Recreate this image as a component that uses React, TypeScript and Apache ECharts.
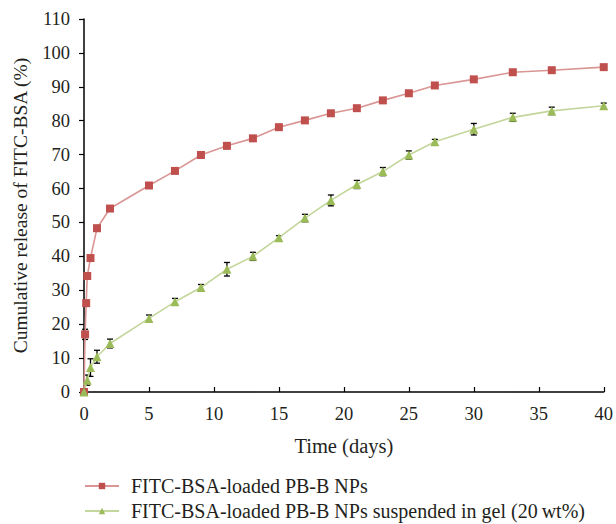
import React, { useEffect, useRef } from "react";
import * as echarts from "echarts";

// Release profile of free nanoparticles
const npDays = [0, 0.083, 0.167, 0.25, 0.5, 1, 2, 5, 7, 9, 11, 13, 15, 17, 19, 21, 23, 25, 27, 30, 33, 36, 40];
const npRelease = [0, 17.0, 26.2, 34.2, 39.5, 48.3, 54.1, 60.9, 65.2, 69.9, 72.6, 74.8, 78.1, 80.1, 82.2, 83.7, 86.0, 88.1, 90.4, 92.2, 94.3, 94.9, 95.8];
const npError = [0, 1.5, 0.8, 0.8, 0.6, 0.8, 0.5, 0.6, 0.7, 0.6, 0.8, 0.4, 0.3, 0.3, 0.3, 0.3, 0.3, 0.3, 0.3, 0.3, 0.3, 0.3, 0.3];

// Release profile of nanoparticles suspended in gel
const gelDays = [0, 0.25, 0.5, 1, 2, 5, 7, 9, 11, 13, 15, 17, 19, 21, 23, 25, 27, 30, 33, 36, 40];
const gelRelease = [0, 3.5, 7.2, 10.4, 14.3, 21.7, 26.6, 30.8, 36.2, 40.0, 45.5, 51.3, 56.5, 61.2, 65.0, 69.9, 73.8, 77.5, 81.0, 82.9, 84.4];
const gelError = [0, 1.5, 2.6, 1.9, 1.3, 1.0, 1.0, 0.9, 2.0, 1.2, 0.6, 1.1, 1.6, 1.2, 1.2, 1.2, 0.7, 1.7, 1.2, 1.1, 0.8];

const seriesNames = [
  "FITC-BSA-loaded PB-B NPs",
  "FITC-BSA-loaded PB-B NPs suspended in gel (20\u2009wt%)",
];

const FONT = "'Liberation Serif', 'DejaVu Serif', serif";
const INK = "#231f20";

function errorBarSeries(days: number[], vals: number[], errs: number[]) {
  return {
    type: "custom",
    silent: true,
    z: 1,
    data: days.map((d, i) => [d, vals[i], errs[i]]),
    renderItem: (_params: any, api: any) => {
      const x = api.value(0);
      const y = api.value(1);
      const e = api.value(2);
      if (!e) return null;
      const lo = api.coord([x, y - e]);
      const hi = api.coord([x, y + e]);
      const cap = 3;
      const style = { stroke: "#000", lineWidth: 1.3 };
      return {
        type: "group",
        children: [
          { type: "line", shape: { x1: lo[0], y1: lo[1], x2: hi[0], y2: hi[1] }, style },
          { type: "line", shape: { x1: lo[0] - cap, y1: lo[1], x2: lo[0] + cap, y2: lo[1] }, style },
          { type: "line", shape: { x1: hi[0] - cap, y1: hi[1], x2: hi[0] + cap, y2: hi[1] }, style },
        ],
      };
    },
  };
}

// One legend row per series, stacked under the plot
function legendRow(name: string, top: number) {
  return {
    data: [name],
    orient: "vertical",
    left: 84,
    top,
    padding: 0,
    itemWidth: 34,
    itemHeight: 8,
    selectedMode: false,
    textStyle: { fontFamily: FONT, fontSize: 20, color: INK, padding: [0, 0, 0, 7] },
  };
}

export default function App() {
  const ref = useRef<HTMLDivElement>(null);

  useEffect(() => {
    if (!ref.current) return;
    const chart = echarts.init(ref.current, null, { renderer: "svg" });
    chart.setOption({
      animation: false,
      backgroundColor: "#ffffff",
      textStyle: { fontFamily: FONT, color: INK },
      grid: { left: 84, right: 10, top: 19, bottom: 132 },
      legend: [legendRow(seriesNames[0], 476), legendRow(seriesNames[1], 501)],
      xAxis: {
        type: "value",
        min: 0,
        max: 40,
        interval: 5,
        name: "Time (days)",
        nameLocation: "middle",
        nameGap: 43,
        nameTextStyle: { fontFamily: FONT, fontSize: 20.5, color: INK },
        axisLine: { show: true, onZero: false, lineStyle: { color: "#000", width: 1.5 } },
        axisTick: { show: true, inside: true, length: 5, lineStyle: { color: "#000", width: 1.2 } },
        axisLabel: { fontFamily: FONT, fontSize: 18.5, color: INK, margin: 12 },
        splitLine: { show: false },
      },
      yAxis: {
        type: "value",
        min: 0,
        max: 110,
        interval: 10,
        name: "Cumulative release of FITC-BSA (%)",
        nameLocation: "middle",
        nameGap: 54,
        nameRotate: 90,
        nameTextStyle: { fontFamily: FONT, fontSize: 19.5, color: INK },
        axisLine: { show: true, lineStyle: { color: "#000", width: 1.5 } },
        axisTick: { show: true, inside: false, length: 5, lineStyle: { color: "#000", width: 1.2 } },
        axisLabel: { fontFamily: FONT, fontSize: 18.5, color: INK, margin: 14 },
        splitLine: { show: false },
      },
      series: [
        errorBarSeries(npDays, npRelease, npError),
        errorBarSeries(gelDays, gelRelease, gelError),
        {
          name: seriesNames[0],
          type: "line",
          z: 3,
          data: npDays.map((d, i) => [d, npRelease[i]]),
          symbol: "rect",
          symbolSize: 8,
          itemStyle: { color: "#c0504d" },
          lineStyle: { color: "#d99694", width: 1.6 },
        },
        {
          name: seriesNames[1],
          type: "line",
          z: 3,
          data: gelDays.map((d, i) => [d, gelRelease[i]]),
          symbol: "triangle",
          symbolSize: 9,
          itemStyle: { color: "#9bbb59" },
          lineStyle: { color: "#c3d69b", width: 1.6 },
        },
      ],
    });
    return () => chart.dispose();
  }, []);

  return (
    <div
      ref={ref}
      style={{ position: "fixed", left: 0, top: 0, width: 616, height: 524 }}
    />
  );
}
